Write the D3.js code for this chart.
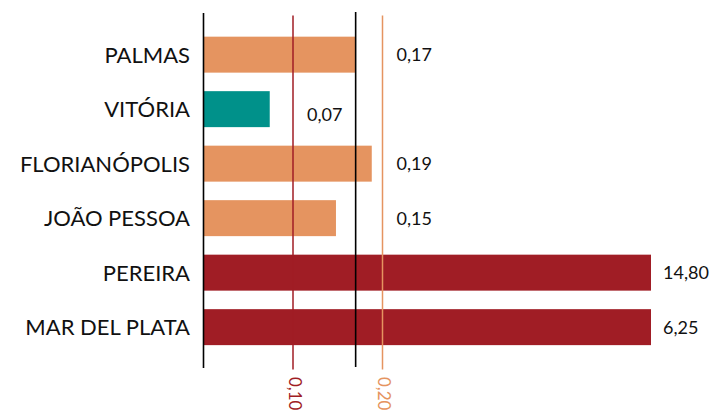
<!DOCTYPE html>
<html>
<head>
<meta charset="utf-8">
<script src="https://cdn.jsdelivr.net/npm/d3@7"></script>
<style>
  body { margin: 0; background: #fff; }
  text { font-family: Lato, "Open Sans", sans-serif; }
</style>
</head>
<body>
<svg id="chart" width="710" height="417"></svg>
<script>
// cities and values
const cities = ["PALMAS", "VITÓRIA", "FLORIANÓPOLIS", "JOÃO PESSOA", "PEREIRA", "MAR DEL PLATA"];
const values = [0.17, 0.074, 0.188, 0.148, 14.80, 6.25];
const groups = ["mid", "low", "mid", "mid", "high", "high"];
const valueLabels = ["0,17", "0,07", "0,19", "0,15", "14,80", "6,25"];

// reference lines
const refValues = [0.10, 0.17, 0.20];
const refGroups = ["low", "axis", "mid"];
const refLabels = ["0,10", "", "0,20"];

const colors = { low: "#a01d25", mid: "#e59460", high: "#a01d25", axis: "#000" };
const barColors = { low: "#00918a", mid: "#e59460", high: "#a01d25" };

let svg = d3.select("#chart");

let x = d3.scaleLinear()
  .domain([0, 0.5])
  .range([203.5, 651])
  .clamp(true);

let y = d3.scaleBand()
  .domain(cities)
  .range([27.4, 354.4])
  .paddingInner(0.34)
  .paddingOuter(0.17);

let data = cities.map(function(c, i) {
  return { city: c, value: values[i], group: groups[i], label: valueLabels[i] };
});

// bars
svg.append("g")
  .selectAll("rect")
  .data(data)
  .join("rect")
  .attr("x", x(0))
  .attr("y", d => y(d.city))
  .attr("width", d => x(d.value) - x(0))
  .attr("height", y.bandwidth())
  .attr("fill", d => barColors[d.group]);

// reference lines
let refs = refValues.map(function(v, i) {
  return { value: v, group: refGroups[i], label: refLabels[i] };
});

svg.append("g")
  .selectAll("line")
  .data(refs)
  .join("line")
  .attr("x1", d => x(d.value))
  .attr("x2", d => x(d.value))
  .attr("y1", d => d.group === "axis" ? 12 : 15.5)
  .attr("y2", d => d.group === "axis" ? 367 : 369.5)
  .attr("stroke", d => colors[d.group])
  .attr("stroke-width", d => d.group === "axis" ? 1.6 : 1.5);

svg.append("g")
  .selectAll("text")
  .data(refs.filter(d => d.label !== ""))
  .join("text")
  .attr("transform", d => "translate(" + x(d.value) + ",377) rotate(90)")
  .attr("dominant-baseline", "middle")
  .attr("font-size", 17)
  .attr("fill", d => colors[d.group])
  .text(d => d.label);

// y axis line
svg.append("line")
  .attr("x1", x(0))
  .attr("x2", x(0))
  .attr("y1", 13)
  .attr("y2", 368)
  .attr("stroke", "#000")
  .attr("stroke-width", 1.6);

// city labels
svg.append("g")
  .selectAll("text")
  .data(data)
  .join("text")
  .attr("x", 190)
  .attr("y", d => y(d.city) + y.bandwidth() / 2)
  .attr("dy", "0.36em")
  .attr("text-anchor", "end")
  .attr("font-size", 22)
  .attr("fill", "#111")
  .text(d => d.city);

// value labels sit in the gap right of the next reference line
function labelX(d) {
  let end = x(d.value);
  if (end < x(0.10)) return x(0.10) + 14;
  if (end < x(0.5)) return x(0.20) + 14;
  return end + 12;
}

svg.append("g")
  .selectAll("text")
  .data(data)
  .join("text")
  .attr("x", labelX)
  .attr("y", d => y(d.city) + y.bandwidth() / 2 + (d.group === "low" ? 5 : 0))
  .attr("dy", "0.36em")
  .attr("font-size", 18)
  .attr("fill", "#111")
  .text(d => d.label);
</script>
</body>
</html>
